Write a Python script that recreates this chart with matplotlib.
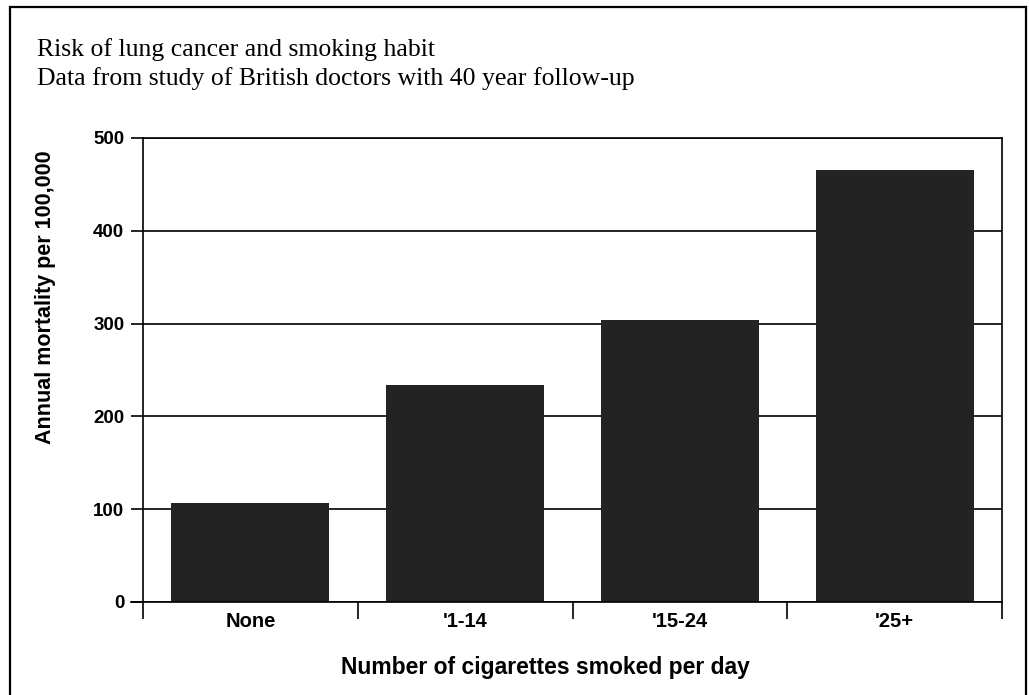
import matplotlib
matplotlib.use("Agg")
import matplotlib.pyplot as plt
from matplotlib.patches import Rectangle

categories = ["None", "'1-14", "'15-24", "'25+"]
mortality = [107, 234, 304, 465]
yticks = [0, 100, 200, 300, 400, 500]

W, H = 1029, 695
fig = plt.figure(figsize=(W / 100, H / 100), dpi=100)
fig.patch.set_facecolor("white")

ax = fig.add_axes([143 / W, 1 - 602 / H, (1002 - 143) / W, (602 - 138) / H])
x = list(range(len(categories)))
ax.bar(x, mortality, width=0.735, color="#232323", zorder=3)

ax.set_xlim(-0.5, len(categories) - 0.5)
ax.set_ylim(0, 500)
ax.set_yticks(yticks)
ax.set_yticklabels([str(v) for v in yticks], fontfamily="Liberation Sans",
                   fontweight="bold", fontsize=13.5)
ax.tick_params(axis="y", direction="out", length=8.5, width=1.2, pad=5, colors="black")

# category boundaries as major ticks, labels on minor ticks
ax.set_xticks([i - 0.5 for i in range(len(categories) + 1)])
ax.set_xticklabels([])
ax.set_xticks(x, minor=True)
ax.set_xticklabels(categories, minor=True, fontfamily="Liberation Sans",
                   fontweight="bold", fontsize=14.5)
ax.tick_params(axis="x", which="major", direction="out", length=12.5, width=1.2)
ax.tick_params(axis="x", which="minor", length=0, pad=7.5)

ax.yaxis.grid(True, color="black", linewidth=1.2, zorder=1)
ax.set_axisbelow(True)
for s in ax.spines.values():
    s.set_linewidth(1.2)
    s.set_color("black")
ax.spines["bottom"].set_zorder(4)

# extend baseline to the left as in reference
ax.plot([-0.5 - 12 / 215, -0.5], [0, 0], color="black", linewidth=1.2,
        clip_on=False, zorder=4)

ax.set_ylabel("Annual mortality per 100,000", fontfamily="Liberation Sans",
              fontweight="bold", fontsize=15.5)
ax.yaxis.set_label_coords(-0.101, 0.656)
ax.set_xlabel("Number of cigarettes smoked per day", fontfamily="Liberation Sans",
              fontweight="bold", fontsize=16.5)
ax.xaxis.set_label_coords(0.468, -0.117)

fig.text(37 / W, 1 - 56 / H, "Risk of lung cancer and smoking habit",
         fontfamily="Liberation Serif", fontsize=18.5, va="baseline", ha="left")
fig.text(37 / W, 1 - 85 / H, "Data from study of British doctors with 40 year follow-up",
         fontfamily="Liberation Serif", fontsize=18.5, va="baseline", ha="left")

fig.patches.append(Rectangle((10 / W, -0.02), (1026 - 10) / W, 1 - 7 / H + 0.02,
                             transform=fig.transFigure, fill=False,
                             edgecolor="black", linewidth=1.6))

fig.savefig("out.png", dpi=100)
